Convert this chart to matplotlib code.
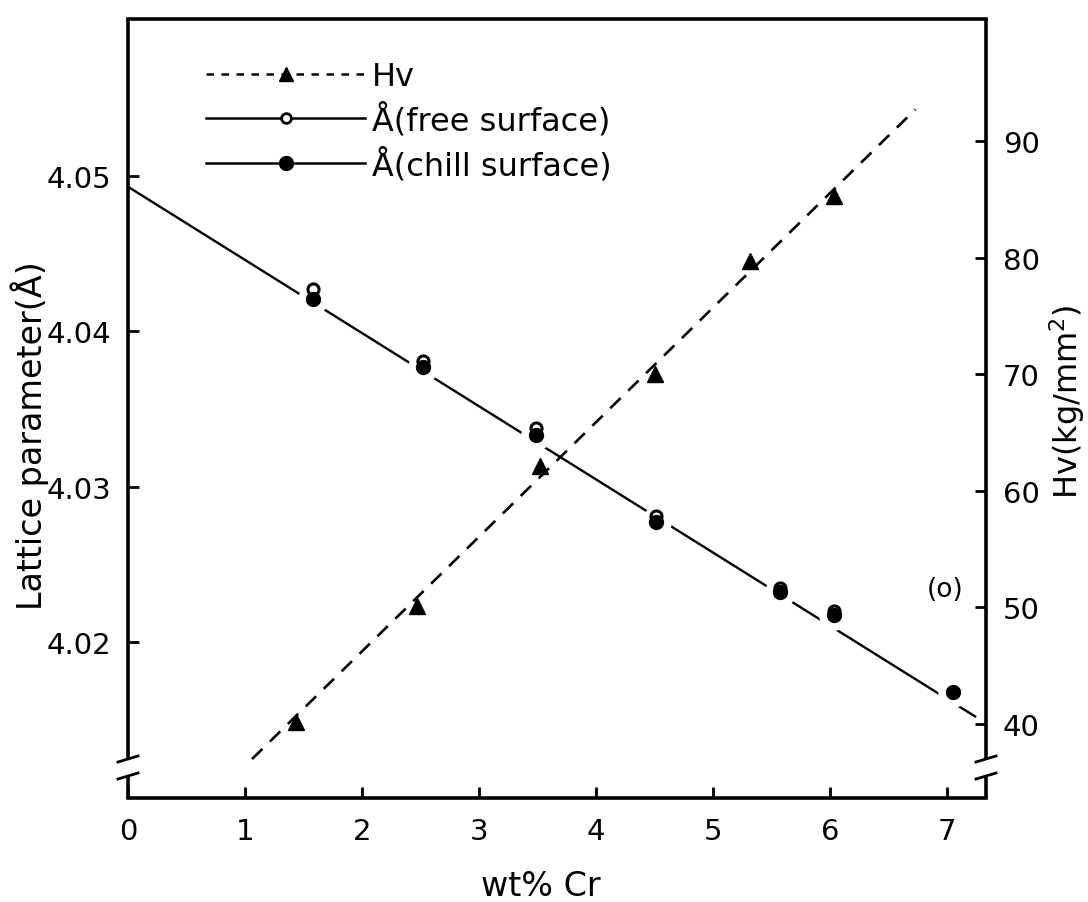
#!/usr/bin/env python3
"""Lattice parameter and hardness of Al-Cr vs Cr content (two y axes)."""

import matplotlib

matplotlib.use("Agg")
import matplotlib.pyplot as plt
from matplotlib.lines import Line2D

plt.rcParams["font.family"] = ["DejaVu Sans"]

# --- data ------------------------------------------------------------------
hv_x = [1.44, 2.47, 3.52, 4.50, 5.32, 6.03]
hv_values = [40.2, 50.1, 62.1, 70.0, 79.7, 85.3]
hv_fit_x = [1.06, 6.73]
hv_fit_y = [37.0, 92.7]

free_x = [1.58, 2.52, 3.49, 4.51, 5.57, 6.03]
free_a = [4.0427, 4.0381, 4.0338, 4.0281, 4.0235, 4.0220]
chill_x = [1.58, 2.52, 3.49, 4.51, 5.57, 6.03, 7.05]
chill_a = [4.0421, 4.0377, 4.0333, 4.0277, 4.0232, 4.0217, 4.0168]
a_fit_x = [0.0, 7.24]
a_fit_y = [4.0493, 4.0152]

x_ticks = [0, 1, 2, 3, 4, 5, 6, 7]
a_ticks = [4.02, 4.03, 4.04, 4.05]
a_tick_labels = ["4.02", "4.03", "4.04", "4.05"]
hv_ticks = [40, 50, 60, 70, 80, 90]

legend_labels = ["Hv", "Å(free surface)", "Å(chill surface)"]

W, H = 1088, 903
fig = plt.figure(figsize=(W / 100, H / 100), dpi=100)
left, right, bottom, top = 128, 986, 799, 20
ax = fig.add_axes([left / W, 1 - bottom / H, (right - left) / W, (bottom - top) / H])
ax2 = ax.twinx()

ax.set_xlim(0, 7.333)
ax.set_ylim(4.00995, 4.0601)
ax2.set_ylim(33.66, 100.45)

# lattice parameter fit line and points
ax.plot(a_fit_x, a_fit_y, color="black", lw=1.7, zorder=2)
ax.plot(chill_x, chill_a, ls="none", marker="o", ms=21, color="white", zorder=3)
ax.plot(free_x, free_a, ls="none", marker="o", ms=8, mfc="white", mec="black",
        mew=2.2, zorder=4)
ax.plot(chill_x, chill_a, ls="none", marker="o", ms=10, color="black", zorder=5)

# hardness
ax2.plot(hv_fit_x, hv_fit_y, color="black", lw=1.9, ls=(0, (5.5, 4)), zorder=2)
ax2.plot(hv_x, hv_values, ls="none", marker="^", ms=11, color="black", zorder=5)

ax.text(6.98, 4.0234, "(o)", fontsize=19, ha="center", va="center")

# ticks
ax.set_xticks(x_ticks)
ax.set_yticks(a_ticks, a_tick_labels)
ax2.set_yticks(hv_ticks)
ax.tick_params(direction="in", length=8, width=2, labelsize=21)
ax.tick_params(axis="x", pad=14)
ax.tick_params(axis="y", pad=12)
ax2.tick_params(direction="in", length=8, width=2, labelsize=21, pad=12)

# spines: draw left/right by hand with an axis break near the bottom
for spine in ["left", "right"]:
    ax.spines[spine].set_visible(False)
for spine in ax2.spines.values():
    spine.set_visible(False)
for spine in ["top", "bottom"]:
    ax.spines[spine].set_linewidth(2.6)

gap_lo = (bottom - 777) / (bottom - top)
gap_hi = (bottom - 760) / (bottom - top)
dx = 10 / (right - left)
dy = 3 / (bottom - top)
for xs in (0, 1):
    ax.plot([xs, xs], [0, gap_lo], transform=ax.transAxes, color="black", lw=2.6,
            clip_on=False, solid_capstyle="butt")
    ax.plot([xs, xs], [gap_hi, 1], transform=ax.transAxes, color="black", lw=2.6,
            clip_on=False, solid_capstyle="butt")
    for yb in (gap_lo, gap_hi):
        ax.plot([xs - dx, xs + dx], [yb - dy, yb + dy], transform=ax.transAxes,
                color="black", lw=2, clip_on=False)

# labels
fig.text(541 / W, 1 - 887 / H, "wt% Cr", fontsize=24, ha="center", va="center")
fig.text(30 / W, 1 - 436 / H, "Lattice parameter(Å)", fontsize=24, rotation=90,
         ha="center", va="center")
fig.text(1067 / W, 1 - 402 / H, "Hv(kg/mm$^2$)", fontsize=23, rotation=90,
         ha="center", va="center")

# legend
handles = [
    Line2D([], [], color="black", lw=1.8, ls=(0, (3, 3)), marker="^", ms=10),
    Line2D([], [], color="black", lw=1.8, marker="o", ms=7, mfc="white", mew=2),
    Line2D([], [], color="black", lw=1.8, marker="o", ms=10),
]
ax.legend(handles, legend_labels, loc="upper left", bbox_to_anchor=(177 / W, 1 - 33 / H),
          bbox_transform=fig.transFigure, frameon=False, fontsize=23, numpoints=1,
          handlelength=5.0, handletextpad=0.2, labelspacing=0.32)

fig.savefig("out.png", dpi=100)
